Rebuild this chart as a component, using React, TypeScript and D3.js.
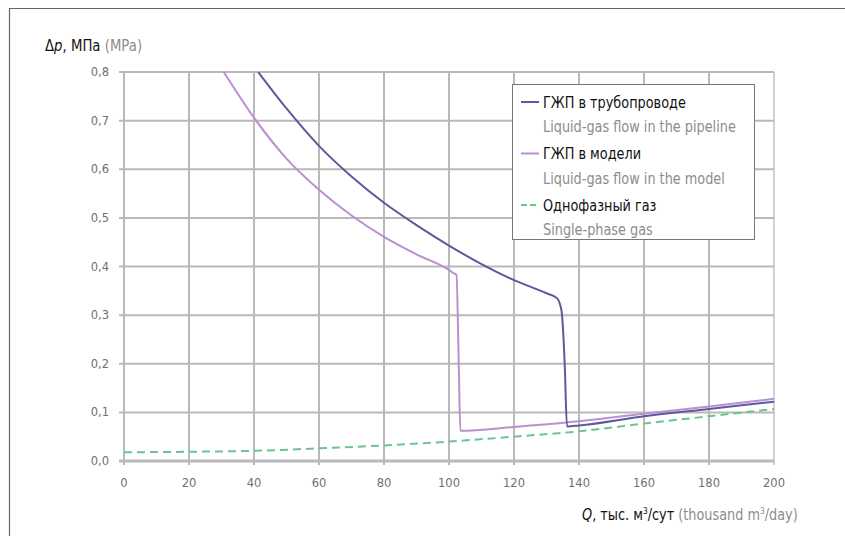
import { useEffect, useRef } from 'react'
import * as d3 from 'd3'

// Q, thousand m3/day  /  Δp, MPa
const pipelineQ = [41.3, 50, 60, 70, 80, 90, 100, 110, 120, 130, 133.2, 134.6, 135.6, 136.3, 140, 160, 180, 200]
const pipelineP = [0.8, 0.725, 0.648, 0.585, 0.531, 0.485, 0.443, 0.405, 0.372, 0.345, 0.335, 0.31, 0.2, 0.071, 0.073, 0.092, 0.107, 0.122]

const modelQ = [30.7, 40, 50, 60, 70, 80, 90, 100, 101.5, 102.3, 103, 103.5, 120, 136, 160, 180, 200]
const modelP = [0.8, 0.706, 0.622, 0.558, 0.505, 0.461, 0.425, 0.393, 0.386, 0.383, 0.2, 0.062, 0.07, 0.079, 0.097, 0.112, 0.128]

const gasQ = [0, 20, 40, 60, 80, 100, 120, 140, 160, 180, 200]
const gasP = [0.018, 0.019, 0.021, 0.026, 0.032, 0.04, 0.05, 0.061, 0.077, 0.092, 0.107]

const xTicks = [0, 20, 40, 60, 80, 100, 120, 140, 160, 180, 200]
const yTicks = [0, 0.1, 0.2, 0.3, 0.4, 0.5, 0.6, 0.7, 0.8]

const legendRu = ['ГЖП в трубопроводе', 'ГЖП в модели', 'Однофазный газ']
const legendEn = ['Liquid-gas flow in the pipeline', 'Liquid-gas flow in the model', 'Single-phase gas']

const colors = ['#5a5a9e', '#bb8fd0', '#6cc48f']
const font = "'DejaVu Sans', sans-serif"
const narrow = 0.83

export default function App() {
  const ref = useRef<SVGSVGElement | null>(null)

  useEffect(() => {
    const svg = d3.select(ref.current)
    svg.selectAll('*').remove()

    const x = d3.scaleLinear().domain([0, 200]).range([124, 774])
    const y = d3.scaleLinear().domain([0, 0.8]).range([461, 72])

    // frame (top and left edges)
    svg.append('path').attr('d', 'M9.5,536V8.5H845').attr('fill', 'none')
      .attr('stroke', '#666').attr('stroke-width', 1.2)

    // grid
    const grid = svg.append('g')
    grid.selectAll('.gx').data(xTicks).enter().append('line')
      .attr('x1', d => x(d)).attr('x2', d => x(d))
      .attr('y1', y(0.8)).attr('y2', y(0) + 4)
      .attr('stroke', d => d === 200 ? '#d2d2d2' : '#b9b9b9').attr('stroke-width', 2)
    grid.selectAll('.gy').data(yTicks).enter().append('line')
      .attr('x1', x(0) - 5).attr('x2', x(200))
      .attr('y1', d => y(d)).attr('y2', d => y(d))
      .attr('stroke', '#b9b9b9').attr('stroke-width', d => d === 0 ? 3 : 2)

    // tick labels
    svg.append('g').selectAll('text').data(yTicks).enter().append('text')
      .attr('x', 109).attr('y', d => y(d) + 4)
      .attr('text-anchor', 'end')
      .style('font-family', 'Verdana, DejaVu Sans, sans-serif').style('font-size', '11.5px')
      .attr('fill', '#707070')
      .text(d => d3.format('.1f')(d).replace('.', ','))
    svg.append('g').selectAll('text').data(xTicks).enter().append('text')
      .attr('x', d => x(d)).attr('y', 487)
      .attr('text-anchor', 'middle')
      .style('font-family', 'Verdana, DejaVu Sans, sans-serif').style('font-size', '11.5px')
      .attr('fill', '#707070')
      .text(d => String(d))

    // series
    const line = d3.line<[number, number]>().x(d => x(d[0])).y(d => y(d[1])).curve(d3.curveMonotoneX)
    const series = [
      { q: gasQ, p: gasP, color: colors[2], dash: '8,5' },
      { q: modelQ, p: modelP, color: colors[1], dash: null },
      { q: pipelineQ, p: pipelineP, color: colors[0], dash: null },
    ]
    series.forEach(s => {
      svg.append('path')
        .datum(s.q.map((q, i) => [q, s.p[i]] as [number, number]))
        .attr('d', line)
        .attr('fill', 'none')
        .attr('stroke', s.color)
        .attr('stroke-width', 2)
        .attr('stroke-dasharray', s.dash)
    })

    // legend
    const lg = svg.append('g')
    lg.append('rect').attr('x', 512.5).attr('y', 84.5).attr('width', 242).attr('height', 155)
      .attr('fill', '#fff').attr('stroke', '#777').attr('stroke-width', 1)
    legendRu.forEach((t, i) => {
      const cy = 102 + i * 51.5
      lg.append('line').attr('x1', 521).attr('x2', 539).attr('y1', cy).attr('y2', cy)
        .attr('stroke', colors[i]).attr('stroke-width', 2)
        .attr('stroke-dasharray', i === 2 ? '6,3' : null)
      lg.append('text').attr('transform', `translate(543,${cy + 5.5}) scale(${narrow},1)`)
        .style('font-family', font).style('font-size', '15.5px')
        .attr('fill', '#111').text(t)
      lg.append('text').attr('transform', `translate(543,${cy + 30}) scale(${narrow},1)`)
        .style('font-family', font).style('font-size', '15.5px')
        .attr('fill', '#8c8c8c').text(legendEn[i])
    })

    // axis titles
    const yt = svg.append('text').attr('transform', `translate(45,51) scale(${narrow},1)`)
      .style('font-family', font).style('font-size', '16px').attr('fill', '#111')
    yt.append('tspan').text('Δ')
    yt.append('tspan').style('font-style', 'italic').text('p')
    yt.append('tspan').text(', МПа ')
    yt.append('tspan').attr('fill', '#8c8c8c').text('(MPa)')

    const xt = svg.append('text').attr('transform', `translate(582,520) scale(${narrow},1)`)
      .style('font-family', font).style('font-size', '15.5px').attr('fill', '#111')
    xt.append('tspan').style('font-style', 'italic').text('Q')
    xt.append('tspan').text(', тыс. м')
    xt.append('tspan').style('font-size', '9px').attr('dy', -6).text('3')
    xt.append('tspan').attr('dy', 6).text('/сут ')
    xt.append('tspan').attr('fill', '#8c8c8c').text('(thousand m')
    xt.append('tspan').attr('fill', '#8c8c8c').style('font-size', '9px').attr('dy', -6).text('3')
    xt.append('tspan').attr('fill', '#8c8c8c').attr('dy', 6).text('/day)')
  }, [])

  return (
    <svg
      ref={ref}
      width={845}
      height={536}
      style={{ position: 'absolute', left: 0, top: 0, background: '#fff' }}
    />
  )
}
